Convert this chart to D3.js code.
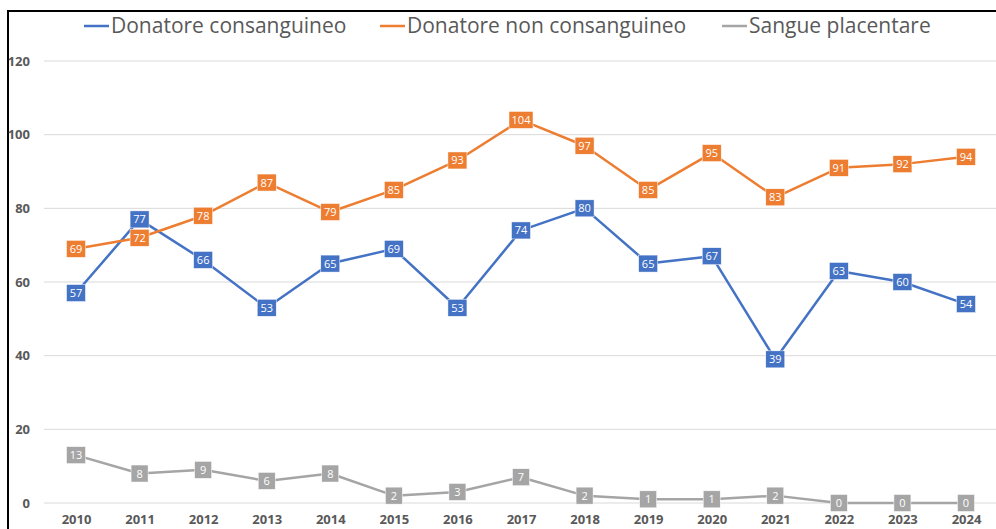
<!DOCTYPE html>
<meta charset="utf-8">
<script src="https://d3js.org/d3.v7.min.js"></script>
<style>
body { margin: 0; background: #fff; }
.grid line { stroke: #d9d9d9; stroke-width: 1px; }
.axis text { font-family: "Open Sans", sans-serif; font-weight: bold; font-size: 13px; fill: #595959; }
.legend text { font-family: "Open Sans", sans-serif; font-size: 21px; fill: #595959; }
.lbl text { font-family: "Open Sans", sans-serif; font-size: 11px; fill: #fff; }
</style>
<body></body>
<script>

// data
var years = ["2010","2011","2012","2013","2014","2015","2016","2017","2018","2019","2020","2021","2022","2023","2024"];
var consanguineo = [57,77,66,53,65,69,53,74,80,65,67,39,63,60,54];
var nonConsanguineo = [69,72,78,87,79,85,93,104,97,85,95,83,91,92,94];
var placentare = [13,8,9,6,8,2,3,7,2,1,1,2,0,0,0];
var yTicks = [0,20,40,60,80,100,120];

var series = [
  {name: "Donatore consanguineo", values: consanguineo, color: "#4472C4"},
  {name: "Donatore non consanguineo", values: nonConsanguineo, color: "#ED7D31"},
  {name: "Sangue placentare", values: placentare, color: "#A5A5A5"}
];

var width = 996, height = 529;

var svg = d3.select("body").append("svg")
    .attr("width", width)
    .attr("height", height);

// frame
svg.append("rect")
    .attr("x", 8).attr("y", 11)
    .attr("width", 1100).attr("height", 600)
    .attr("fill", "none")
    .attr("stroke", "#000")
    .attr("stroke-width", 2);

var x = d3.scalePoint()
    .domain(years)
    .range([76, 966]);

var y = d3.scaleLinear()
    .domain([0, 120])
    .range([503, 61]);

// gridlines
svg.append("g")
    .attr("class", "grid")
  .selectAll("line")
  .data(yTicks)
  .enter().append("line")
    .attr("x1", 44).attr("x2", 998)
    .attr("y1", function(d) { return y(d); })
    .attr("y2", function(d) { return y(d); });

// y axis labels
var yAxis = d3.axisLeft(y).tickValues(yTicks).tickSize(0).tickPadding(0);
svg.append("g")
    .attr("class", "y axis")
    .attr("transform", "translate(30,0)")
    .call(yAxis)
    .call(function(g) { g.select(".domain").remove(); });

// x axis labels
var xAxis = d3.axisBottom(x).tickSize(0).tickPadding(0);
svg.append("g")
    .attr("class", "x axis")
    .attr("transform", "translate(0,515)")
    .call(xAxis)
    .call(function(g) { g.select(".domain").remove(); });

var line = d3.line()
    .x(function(d, i) { return x(years[i]); })
    .y(function(d) { return y(d); });

series.forEach(function(s) {
  svg.append("path")
      .datum(s.values)
      .attr("fill", "none")
      .attr("stroke", s.color)
      .attr("stroke-width", 2.5)
      .attr("stroke-linejoin", "round")
      .attr("d", line);
});

// data labels
series.forEach(function(s) {
  var g = svg.append("g").attr("class", "lbl")
    .selectAll("g")
    .data(s.values)
    .enter().append("g")
      .attr("transform", function(d, i) { return "translate(" + x(years[i]) + "," + y(d) + ")"; });

  g.append("rect")
      .attr("x", function(d) { return String(d).length > 2 ? -12 : (String(d).length > 1 ? -9.5 : -8.5); })
      .attr("width", function(d) { return String(d).length > 2 ? 24 : (String(d).length > 1 ? 19 : 17); })
      .attr("y", -8.5)
      .attr("height", 17)
      .attr("fill", s.color)
      .attr("stroke", "#fff")
      .attr("stroke-width", 0.5);

  g.append("text")
      .attr("text-anchor", "middle")
      .attr("dy", "0.36em")
      .text(function(d) { return d; });
});

// legend
var legendItems = [
  {lx: 84, tx: 111},
  {lx: 380, tx: 407},
  {lx: 722, tx: 749}
];
var legend = svg.append("g").attr("class", "legend");
series.forEach(function(s, i) {
  legend.append("line")
      .attr("x1", legendItems[i].lx).attr("x2", legendItems[i].lx + 25)
      .attr("y1", 26).attr("y2", 26)
      .attr("stroke", s.color)
      .attr("stroke-width", 2.5);
  legend.append("text")
      .attr("x", legendItems[i].tx)
      .attr("y", 33)
      .text(s.name);
});

</script>
